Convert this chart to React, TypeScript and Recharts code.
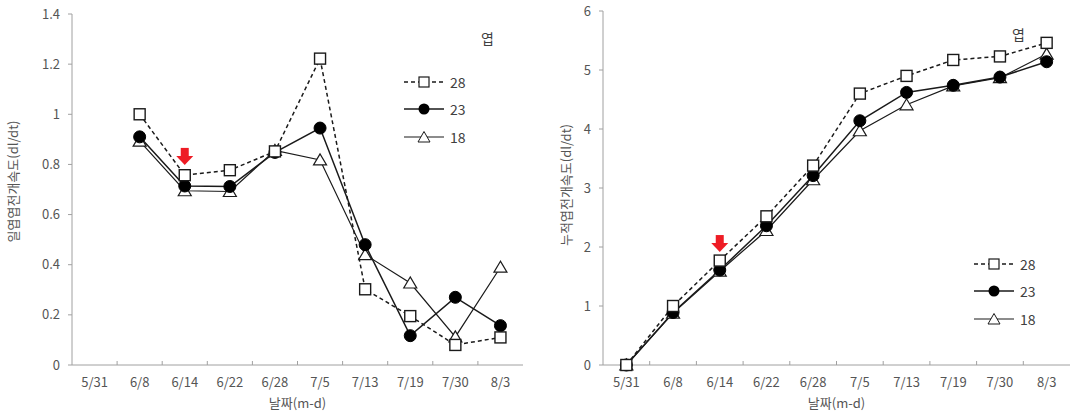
import React from 'react'
import { LineChart, Line, XAxis, YAxis, Legend, ReferenceDot, Label } from 'recharts'

const dates = ['5/31', '6/8', '6/14', '6/22', '6/28', '7/5', '7/13', '7/19', '7/30', '8/3']
const groups = ['28', '23', '18']

// 일엽엽전개속도 (left)
const daily28 = [null, 1.0, 0.757, 0.777, 0.852, 1.222, 0.302, 0.195, 0.08, 0.11]
const daily23 = [null, 0.91, 0.714, 0.712, 0.848, 0.945, 0.48, 0.117, 0.27, 0.157]
const daily18 = [null, 0.893, 0.695, 0.692, 0.856, 0.818, 0.44, 0.327, 0.112, 0.39]

// 누적엽전개속도 (right)
const cum28 = [0, 1.0, 1.77, 2.52, 3.38, 4.6, 4.9, 5.17, 5.23, 5.46]
const cum23 = [0, 0.89, 1.61, 2.36, 3.21, 4.14, 4.62, 4.74, 4.88, 5.14]
const cum18 = [0, 0.88, 1.59, 2.28, 3.14, 3.97, 4.41, 4.73, 4.87, 5.27]

const dailyTicks = [0, 0.2, 0.4, 0.6, 0.8, 1, 1.2, 1.4]
const cumTicks = [0, 1, 2, 3, 4, 5, 6]

const dailyData = dates.map((d, i) => ({ date: d, s28: daily28[i], s23: daily23[i], s18: daily18[i] }))
const cumData = dates.map((d, i) => ({ date: d, s28: cum28[i], s23: cum23[i], s18: cum18[i] }))

const FONT = "'Noto Sans CJK KR', 'Noto Sans', sans-serif"
const TXT = '#555'
const AXIS = '#a0a0a0'
const BORDER = '#d4d4d4'
const INK = '#1a1a1a'

function Square({ cx, cy }: any) {
  return <rect x={cx - 5.5} y={cy - 5.5} width={11} height={11} fill="#fff" stroke={INK} strokeWidth={1.4} />
}
function Dot({ cx, cy }: any) {
  return <circle cx={cx} cy={cy} r={6} fill="#000" stroke="#000" />
}
function Tri({ cx, cy }: any) {
  return <polygon points={`${cx},${cy - 6} ${cx - 6.5},${cy + 5} ${cx + 6.5},${cy + 5}`} fill="#fff" stroke={INK} strokeWidth={1.2} />
}

const renderDot = (Comp: any) => (p: any) => {
  if (p.cx == null || p.cy == null || p.value == null) return <g key={p.key ?? p.index} />
  return <Comp key={p.key ?? p.index} cx={p.cx} cy={p.cy} />
}

function Arrow({ cx, cy }: any) {
  if (cx == null || cy == null) return <g />
  return (
    <g>
      <rect x={cx - 4} y={cy - 9} width={8} height={9} fill="#ee1c25" />
      <polygon points={`${cx - 8.5},${cy - 1} ${cx + 8.5},${cy - 1} ${cx},${cy + 8}`} fill="#ee1c25" />
    </g>
  )
}

function XTick({ x, y, payload, index }: any) {
  const half = payload?.offset ?? 22
  return (
    <g>
      {index > 0 && <line x1={x - half} x2={x - half} y1={y} y2={y - 4} stroke={AXIS} />}
      <text x={x} y={y + 17} dy="0.35em" textAnchor="middle" fontSize={13} fill={TXT} fontFamily={FONT}>
        {payload.value}
      </text>
    </g>
  )
}

function LegendBox() {
  return (
    <div style={{ display: 'flex', flexDirection: 'column', fontFamily: FONT }}>
      {groups.map(g => (
        <div key={g} style={{ display: 'flex', alignItems: 'center', height: 27.5 }}>
          <svg width={40} height={14}>
            <line x1={0} x2={40} y1={7} y2={7} stroke={INK} strokeWidth={g === '18' ? 1.2 : 1.5}
              strokeDasharray={g === '28' ? '4 3' : undefined} />
            {g === '28' ? <rect x={15} y={2} width={10} height={10} fill="#fff" stroke={INK} strokeWidth={1.2} />
              : g === '23' ? <circle cx={20} cy={7} r={5.5} fill="#000" />
              : <polygon points="20,1.5 14,12 26,12" fill="#fff" stroke={INK} strokeWidth={1} />}
          </svg>
          <span style={{ marginLeft: 6, fontSize: 14, color: '#404040', lineHeight: '14px' }}>{g}</span>
        </div>
      ))}
    </div>
  )
}

type PanelProps = {
  data: any[]
  ticks: number[]
  max: number
  width: number
  yWidth: number
  marginTop: number
  marginRight: number
  yLabel: string
  labelDx: number
  labelDy: number
  arrowY: number
  legendPos: { left: number; top: number }
}

function Panel(p: PanelProps) {
  return (
    <LineChart width={p.width} height={414} data={p.data}
      margin={{ top: p.marginTop, right: p.marginRight, left: 0, bottom: 4 }}>
      <XAxis dataKey="date" scale="band" height={45} tickSize={0} tickMargin={0} tickLine={false}
        axisLine={{ stroke: AXIS }} tick={<XTick />} interval={0}>
        <Label value="날짜(m-d)" position="center" dy={16} fontSize={13} fill={TXT} fontFamily={FONT} />
      </XAxis>
      <XAxis dataKey="date" scale="band" xAxisId="top" orientation="top" height={0} tick={false} tickLine={false}
        axisLine={{ stroke: BORDER }} />
      <YAxis domain={[0, p.max]} ticks={p.ticks} width={p.yWidth} tickSize={4} tickMargin={8}
        axisLine={{ stroke: AXIS }} tickLine={{ stroke: AXIS }} interval={0}
        tick={{ fontSize: 13, fill: TXT, fontFamily: FONT }} tickFormatter={(v: number) => String(v)}>
        <Label value={p.yLabel} angle={-90} position="center" dx={p.labelDx} dy={p.labelDy}
          fontSize={13} fill={TXT} fontFamily={FONT} />
      </YAxis>
      <YAxis yAxisId="r" orientation="right" domain={[0, p.max]} width={0} tick={false} tickLine={false}
        axisLine={{ stroke: BORDER }} />
      <Line dataKey="s18" name="18" stroke={INK} strokeWidth={1.2} dot={renderDot(Tri)} activeDot={false}
        isAnimationActive={false} />
      <Line dataKey="s23" name="23" stroke={INK} strokeWidth={1.5} dot={renderDot(Dot)} activeDot={false}
        isAnimationActive={false} />
      <Line dataKey="s28" name="28" stroke={INK} strokeWidth={1.5} strokeDasharray="4 3" dot={renderDot(Square)}
        activeDot={false} isAnimationActive={false} />
      <ReferenceDot x="6/14" y={p.arrowY} r={0} shape={<Arrow />} ifOverflow="visible" />
      <Legend layout="horizontal" verticalAlign="middle" align="center" content={<LegendBox />}
        wrapperStyle={{ left: p.legendPos.left, top: p.legendPos.top, width: 'auto', bottom: 'auto' }} />
    </LineChart>
  )
}

export default function App() {
  return (
    <div style={{ position: 'absolute', left: 0, top: 0, width: 1082, height: 414, background: '#fff' }}>
      <div style={{ position: 'absolute', left: 0, top: 0 }}>
        <Panel data={dailyData} ticks={dailyTicks} max={1.4} width={540} yWidth={72} marginTop={14}
          marginRight={17} yLabel="일엽엽전개속도(dl/dt)" labelDx={-23} labelDy={-8} arrowY={0.83}
          legendPos={{ left: 404, top: 68 }} />
      </div>
      <div style={{ position: 'absolute', left: 540, top: 0 }}>
        <Panel data={cumData} ticks={cumTicks} max={6} width={542} yWidth={63} marginTop={11}
          marginRight={12} yLabel="누적엽전개속도(dl/dt)" labelDx={-5} labelDy={-3} arrowY={2.05}
          legendPos={{ left: 434, top: 250 }} />
      </div>
      <div style={{ position: 'absolute', left: 481, top: 28, fontSize: 14, color: '#404040', fontFamily: FONT }}>엽</div>
      <div style={{ position: 'absolute', left: 1012, top: 24, fontSize: 14, color: '#404040', fontFamily: FONT }}>엽</div>
    </div>
  )
}
